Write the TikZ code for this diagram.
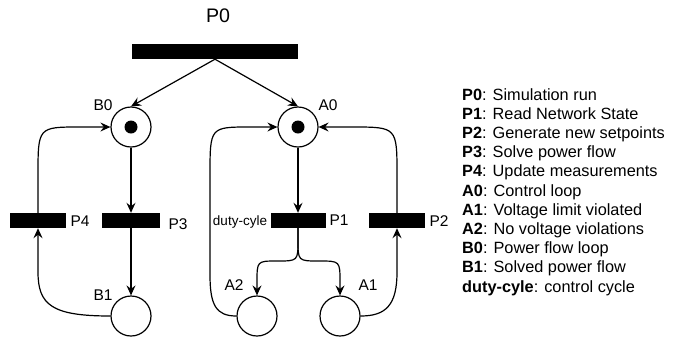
\documentclass[tikz,border=0pt]{standalone}
\usepackage{fontspec}
\setmainfont{Liberation Sans}
\usetikzlibrary{arrows.meta}
\begin{document}
\begin{tikzpicture}[x=1pt,y=-1pt,
 place/.style={circle,draw,line width=1.2pt,minimum size=40pt,inner sep=0pt},
 token/.style={circle,fill=black,minimum size=13pt,inner sep=0pt},
 bar/.style={fill=black,draw=none,inner sep=0pt,minimum height=15pt},
 conn/.style={line width=1.2pt,-{Stealth[length=10pt,width=9pt,inset=3.5pt]}},
 lbl/.style={font=\fontsize{15.5}{18}\selectfont,inner sep=0pt},
 leg/.style={font=\fontsize{16.3}{19}\selectfont,anchor=base west,inner sep=0pt}]
\useasboundingbox (0,0) rectangle (687,341);
% transitions
\node[bar,minimum width=166pt] (P0) at (215,51.5) {};
\node[bar,minimum width=56pt] (P4) at (38,220.5) {};
\node[bar,minimum width=58pt] (P3) at (131,220.5) {};
\node[bar,minimum width=55pt] (P1) at (298,220.5) {};
\node[bar,minimum width=56pt] (P2) at (397,220.5) {};
% places
\node[place] (B0) at (131,127) {};
\node[token] (B0t) at (B0) {};
\node[place] (A0) at (298,127) {};
\node[token] (A0t) at (A0) {};
\node[place] (B1) at (131,316) {};
\node[place] (A2) at (257,316) {};
\node[place] (A1) at (340,316) {};
% labels
\node[font=\fontsize{19.6}{22}\selectfont,inner sep=0pt] (lP0) at (218,16) {P0};
\node[lbl] (lB0) at (103,105) {B0};
\node[lbl] (lA0) at (328,105) {A0};
\node[lbl] (lB1) at (103,295) {B1};
\node[lbl] (lA2) at (234,285) {A2};
\node[lbl] (lA1) at (368,285) {A1};
\node[lbl] (lP4) at (80,221) {P4};
\node[lbl] (lP3) at (178,224) {P3};
\node[lbl] (lP1) at (339,220) {P1};
\node[lbl] (lP2) at (439,221) {P2};
\node[font=\fontsize{13.5}{16}\selectfont,inner sep=0pt,anchor=base] (ldc) at (240,225) {duty-cyle};
% connectors
\draw[conn] (P0.south) -- (B0.north);
\draw[conn] (P0.south) -- (A0.north);
\draw[conn] (B0.south) -- (P3.north);
\draw[conn] (P3.south) -- (B1.north);
\draw[conn] (B1.west) .. controls (52,316) and (38,305) .. (38,272) -- (P4.south);
\draw[conn] (P4.north) -- (38,175) .. controls (38,127) .. (80,127) -- (B0.west);
\draw[conn] (A0.south) -- (P1.north);
\draw[conn] (P1.south) -- (298,240) .. controls (298,261) .. (277,261) .. controls (257,261) .. (257,282) -- (A2.north);
\draw[conn] (P1.south) -- (298,240) .. controls (298,261) .. (319,261) .. controls (340,261) .. (340,282) -- (A1.north);
\draw[conn] (A2.west) .. controls (216,316) and (210,305) .. (210,275) -- (210,175) .. controls (210,127) .. (250,127) -- (A0.west);
\draw[conn] (A1.east) .. controls (386,316) and (397,305) .. (397,272) -- (P2.south);
\draw[conn] (P2.north) -- (397,175) .. controls (397,127) .. (352,127) -- (A0.east);
% legend
\node[leg] (g0) at (462,100) {\textbf{P0}: Simulation run};
\node[leg] (g1) at (462,119.2) {\textbf{P1}: Read Network State};
\node[leg] (g2) at (462,138.4) {\textbf{P2}: Generate new setpoints};
\node[leg] (g3) at (462,157.6) {\textbf{P3}: Solve power flow};
\node[leg] (g4) at (462,176.8) {\textbf{P4}: Update measurements};
\node[leg] (g5) at (462,196) {\textbf{A0}: Control loop};
\node[leg] (g6) at (462,215.2) {\textbf{A1}: Voltage limit violated};
\node[leg] (g7) at (462,234.4) {\textbf{A2}: No voltage violations};
\node[leg] (g8) at (462,253.6) {\textbf{B0}: Power flow loop};
\node[leg] (g9) at (462,272.8) {\textbf{B1}: Solved power flow};
\node[leg] (g10) at (462,292) {\textbf{duty-cyle}: control cycle};
\end{tikzpicture}
\end{document}
